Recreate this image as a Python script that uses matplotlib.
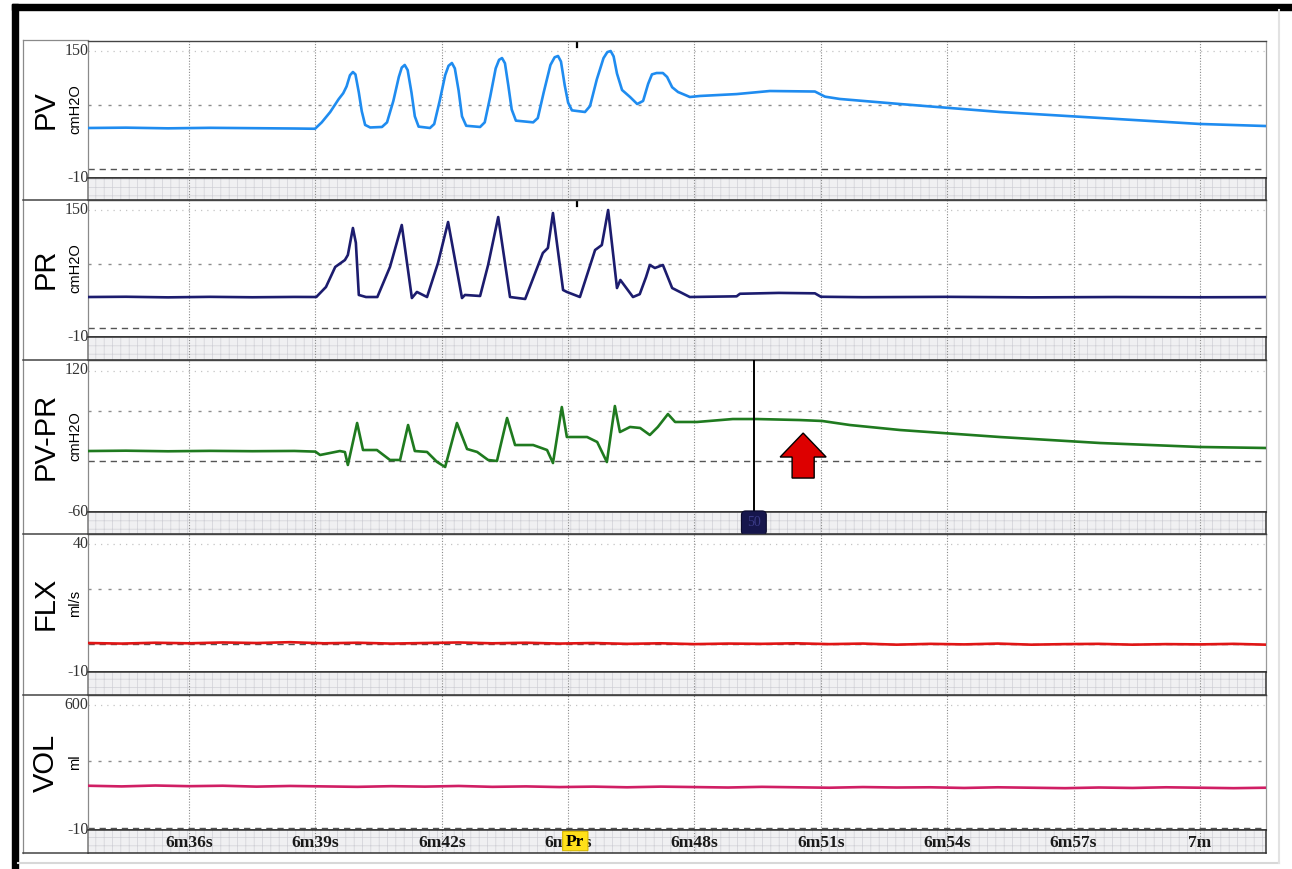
import matplotlib
matplotlib.use('Agg')
import matplotlib.pyplot as plt
import matplotlib.transforms as mtransforms
from matplotlib.patches import Rectangle, Polygon, FancyBboxPatch
from matplotlib.lines import Line2D

# ---------------- data ----------------
tick_seconds = [396, 399, 402, 405, 408, 411, 414, 417, 420]
tick_labels = ['6m36s', '6m39s', '6m42s', '6m45s', '6m48s', '6m51s', '6m54s', '6m57s', '7m']
time_range = (393.60, 421.57)
event_time = 405.17
event_label = 'Pr'
cursor_time = 409.41
cursor_label = '50'
arrow_tip = (410.58, 33.5)

channel_names = ['PV', 'PR', 'PV-PR', 'FLX', 'VOL']
channel_units = ['cmH2O', 'cmH2O', 'cmH2O', 'ml/s', 'ml']
channel_min = [-10, -10, -60, -10, -10]
channel_max = [150, 150, 120, 40, 600]
channel_mid = [75, 75, 60, 20, 300]
channel_colors = ['#1f8cf0', '#1c1c6e', '#1f7a1f', '#e01515', '#d01e64']

pv_t = [393.60, 394.5, 395.5, 396.5, 397.5, 398.5, 398.99, 399.15, 399.35, 399.55,
        399.66, 399.74, 399.82, 399.89, 399.95, 400.03, 400.10, 400.18, 400.30, 400.58,
        400.70, 400.85, 400.98, 401.05, 401.12, 401.19, 401.28, 401.36, 401.45, 401.72,
        401.82, 401.95, 402.08, 402.16, 402.24, 402.31, 402.40, 402.48, 402.58, 402.91,
        403.02, 403.15, 403.28, 403.36, 403.43, 403.50, 403.58, 403.66, 403.76, 404.17,
        404.28, 404.42, 404.58, 404.68, 404.76, 404.83, 404.92, 405.00, 405.09, 405.40,
        405.52, 405.68, 405.84, 405.93, 406.01, 406.08, 406.16, 406.28, 406.47, 406.64,
        406.78, 406.90, 406.99, 407.10, 407.25, 407.35, 407.47, 407.61, 407.89, 408.13,
        409.0, 409.79, 410.86, 411.10, 411.45, 412.88, 415.25, 417.63, 420.00, 421.57]
pv_v = [48.4, 48.8, 48.0, 48.6, 48.2, 47.8, 47.5, 55.0, 67.0, 82.0,
        89.0, 97.0, 110.0, 113.8, 111.0, 90.0, 68.0, 52.0, 49.0, 49.6,
        55.0, 80.0, 108.0, 119.0, 122.0, 116.0, 90.0, 62.0, 50.0, 48.4,
        53.0, 80.0, 110.0, 121.0, 124.3, 118.0, 92.0, 62.0, 51.0, 49.6,
        55.0, 85.0, 118.0, 128.0, 130.1, 124.0, 98.0, 70.0, 57.0, 55.0,
        60.0, 90.0, 122.0, 131.0, 132.5, 126.0, 98.0, 78.0, 69.0, 67.1,
        74.0, 105.0, 130.0, 137.0, 138.3, 132.0, 112.0, 92.8, 84.6, 76.4,
        80.0, 100.0, 111.0, 112.6, 112.6, 108.0, 96.0, 90.4, 84.6, 85.8,
        88.0, 91.6, 91.0, 85.0, 82.3, 76.4, 67.1, 60.1, 53.1, 50.7]

pr_t = [393.60, 394.5, 395.5, 396.5, 397.5, 398.5, 399.02, 399.25, 399.47, 399.70,
        399.77, 399.89, 399.96, 400.03, 400.20, 400.47, 400.77, 401.05, 401.29, 401.41,
        401.65, 401.91, 402.15, 402.48, 402.55, 402.91, 403.10, 403.34, 403.62, 403.98,
        404.40, 404.52, 404.64, 404.88, 404.97, 405.28, 405.64, 405.80, 405.95, 406.16,
        406.24, 406.54, 406.70, 406.85, 406.94, 407.06, 407.25, 407.47, 407.89, 409.0,
        409.08, 410.0, 410.86, 411.00, 412.0, 414.0, 416.0, 418.0, 420.0, 421.57]
pr_v = [36.7, 37.0, 36.3, 36.9, 36.4, 36.8, 36.7, 48.4, 71.8, 79.9,
        85.8, 117.3, 100.0, 39.1, 36.7, 36.7, 71.8, 120.8, 35.5, 42.6,
        36.7, 76.4, 124.3, 35.5, 39.1, 37.9, 74.1, 130.1, 36.7, 34.4,
        88.1, 94.0, 134.8, 44.9, 42.6, 36.7, 91.6, 97.4, 138.3, 47.2,
        56.6, 36.7, 40.0, 60.0, 74.1, 70.6, 74.1, 47.2, 36.7, 37.5,
        40.5, 41.5, 41.0, 37.0, 36.5, 36.9, 36.3, 36.7, 36.4, 36.6]

pvpr_t = [393.60, 394.5, 395.5, 396.5, 397.5, 398.5, 399.0, 399.11, 399.35, 399.58,
          399.70, 399.77, 399.99, 400.13, 400.46, 400.77, 401.01, 401.20, 401.36, 401.65,
          401.89, 402.08, 402.36, 402.60, 402.84, 403.10, 403.31, 403.55, 403.74, 404.17,
          404.50, 404.64, 404.85, 404.97, 405.45, 405.69, 405.92, 406.11, 406.23, 406.47,
          406.71, 406.94, 407.13, 407.37, 407.54, 407.89, 408.06, 408.91, 409.48, 410.50,
          411.03, 411.69, 412.88, 415.25, 417.63, 420.00, 421.57]
pvpr_v = [12.2, 12.6, 11.9, 12.4, 12.0, 12.3, 11.5, 7.5, 9.9, 12.2,
          11.0, -4.3, 45.4, 13.4, 13.4, 1.6, 1.6, 43.0, 12.2, 11.1,
          -0.8, -6.7, 45.4, 14.6, 11.1, 1.6, 0.4, 51.3, 19.3, 19.3,
          13.4, -2.0, 64.3, 28.8, 28.8, 22.9, -0.8, 65.5, 34.7, 40.7,
          39.5, 31.2, 40.7, 56.0, 46.6, 46.6, 46.6, 50.1, 50.1, 48.9,
          47.8, 43.0, 37.1, 28.8, 21.7, 17.0, 15.8]

flx_t = [393.6, 394.4, 395.2, 396.0, 396.8, 397.6, 398.4, 399.2, 400.0, 400.8,
         401.6, 402.4, 403.2, 404.0, 404.8, 405.6, 406.4, 407.2, 408.0, 408.8,
         409.6, 410.4, 411.2, 412.0, 412.8, 413.6, 414.4, 415.2, 416.0, 416.8,
         417.6, 418.4, 419.2, 420.0, 420.8, 421.57]
flx_v = [0.5, 0.3, 0.6, 0.4, 0.7, 0.5, 0.8, 0.4, 0.6, 0.3,
         0.5, 0.7, 0.4, 0.6, 0.3, 0.5, 0.2, 0.4, 0.1, 0.3,
         0.2, 0.4, 0.1, 0.3, -0.1, 0.2, 0.0, 0.3, -0.1, 0.1,
         0.2, -0.1, 0.1, 0.0, 0.2, -0.1]

vol_t = flx_t
vol_v = [190, 187, 191, 188, 190, 186, 189, 187, 185, 188,
         186, 189, 185, 187, 184, 186, 183, 186, 184, 182,
         185, 183, 181, 184, 182, 183, 180, 183, 181, 179,
         182, 180, 183, 181, 179, 181]

traces = [(pv_t, pv_v), (pr_t, pr_v), (pvpr_t, pvpr_v), (flx_t, flx_v), (vol_t, vol_v)]

# ---------------- layout (pixels) ----------------
W, H = 1292, 869
X0, X1 = 88, 1266
panel_top = [41, 200, 360, 534, 695]
band_top = [178, 337, 512, 672, 830]
band_bot = [200, 360, 534, 695, 853]

fig = plt.figure(figsize=(W / 100, H / 100), dpi=100)
fig.patch.set_facecolor('white')
plt.rcParams['hatch.linewidth'] = 0.5


def rect(x0, y0, x1, y1):
    return [x0 / W, 1 - y1 / H, (x1 - x0) / W, (y1 - y0) / H]


# background / frame
bg = fig.add_axes([0, 0, 1, 1], zorder=-5)
bg.set_xlim(0, W)
bg.set_ylim(H, 0)
bg.axis('off')
bg.add_patch(Rectangle((12, 4), W - 12, 6, color='black'))
bg.add_patch(Rectangle((12, 4), 6, H - 4, color='black'))
bg.add_line(Line2D([18, 1279], [863, 863], color='#d8d8d8', lw=1.5))
bg.add_line(Line2D([1279, 1279], [10, 863], color='#e2e2e2', lw=1.5))
bg.add_line(Line2D([23, 23], [40, 853], color='#8a8a8a', lw=0.9))
bg.add_line(Line2D([23, X0], [40, 40], color='#8a8a8a', lw=0.9))
for yb in band_bot:
    bg.add_line(Line2D([23, X0], [yb, yb], color='#444444', lw=1.1))

serif = 'Liberation Serif'
sans = 'Liberation Sans'

data_axes = []
band_axes = []
for i in range(5):
    ax = fig.add_axes(rect(X0, panel_top[i], X1, band_top[i]))
    axb = fig.add_axes(rect(X0, band_top[i], X1, band_bot[i]), sharex=ax)
    data_axes.append(ax)
    band_axes.append(axb)

    ax.set_xlim(*time_range)
    ax.set_ylim(channel_min[i], channel_max[i])
    ax.set_xticks([])
    ax.set_yticks([])
    ax.spines['left'].set_color('#8a8a8a')
    ax.spines['left'].set_linewidth(0.9)
    ax.spines['right'].set_color('#9a9a9a')
    ax.spines['right'].set_linewidth(0.9)
    ax.spines['top'].set_color('#444444')
    ax.spines['top'].set_linewidth(1.0)
    ax.spines['bottom'].set_color('#333333')
    ax.spines['bottom'].set_linewidth(1.2)

    # horizontal reference lines
    rng = channel_max[i] - channel_min[i]
    ax.axhline(channel_max[i] - 0.075 * rng, color='#c4c4c4', lw=0.9, dashes=(1, 4))
    ax.axhline(channel_mid[i], color='#8c8c8c', lw=1.0, dashes=(2.2, 5))
    ax.axhline(0, color='#555555', lw=1.0, dashes=(4.5, 3.5))
    for t in tick_seconds:
        ax.axvline(t, color='#8a8a8a', lw=0.8, dashes=(1, 1.5))

    tt, vv = traces[i]
    ax.plot(tt, vv, color=channel_colors[i], lw=1.9, solid_joinstyle='round',
            solid_capstyle='round', zorder=5)

    # value labels
    ax.annotate(str(channel_max[i]), xy=(0, 1), xycoords='axes fraction',
                xytext=(0.5, -7.2), textcoords='offset points', ha='right', va='center',
                fontfamily=serif, fontsize=11.5, color='#333333')
    ax.annotate(str(channel_min[i]), xy=(0, 0), xycoords='axes fraction',
                xytext=(0.5, 0), textcoords='offset points', ha='right', va='center',
                fontfamily=serif, fontsize=11.5, color='#333333')

    # channel names
    yc = 1 - ((panel_top[i] + band_top[i]) / 2) / H
    fig.text(46 / W, yc, channel_names[i], rotation=90, ha='center', va='center',
             fontfamily=sans, fontsize=21, color='black')
    fig.text(75 / W, yc, channel_units[i], rotation=90, ha='center', va='center',
             fontfamily=sans, fontsize=10.5, color='black')

    # band
    axb.set_xlim(*time_range)
    axb.set_ylim(0, 1)
    axb.set_xticks([])
    axb.set_yticks([])
    axb.set_facecolor('#f0f0f2')
    axb.add_patch(Rectangle((0, 0), 1, 1, transform=axb.transAxes, facecolor='none',
                            edgecolor='#d0d0d6', hatch='++', lw=0))
    for s in axb.spines.values():
        s.set_color('#333333')
        s.set_linewidth(1.1)
    axb.spines['left'].set_color('#777777')
    for t in tick_seconds:
        axb.axvline(t, color='#8a8a8a', lw=0.8, dashes=(1, 1.5))

# event marks on top panels
for ax in data_axes[:2]:
    ax.axvline(event_time + 0.05, ymin=0.955, ymax=1.0, color='black', lw=1.6)

# time labels in bottom band
axb = band_axes[-1]
for t, lab in zip(tick_seconds, tick_labels):
    axb.text(t, 0.45, lab, ha='center', va='center', fontfamily=serif,
             fontweight='bold', fontsize=12.5, color='#1a1a1a', zorder=6)
mixed = mtransforms.blended_transform_factory(axb.transData, axb.transAxes)
box_w = 0.60
axb.add_patch(FancyBboxPatch((event_time - box_w / 2, 0.10), box_w, 0.84,
                             boxstyle='round,pad=0,rounding_size=0.08',
                             mutation_aspect=1.0 / 10,
                             transform=mixed, facecolor='#ffe01a', edgecolor='#d8b800',
                             lw=0.8, zorder=7))
axb.text(event_time, 0.48, event_label, ha='center', va='center', fontfamily=serif,
         fontweight='bold', fontsize=12.5, color='black', zorder=8)

# cursor in PV-PR panel
ax3 = data_axes[2]
axb3 = band_axes[2]
ax3.axvline(cursor_time, color='black', lw=1.4, zorder=6)
axb3.axvline(cursor_time, ymin=0.5, ymax=1.0, color='black', lw=1.4, zorder=6)
axb3.text(cursor_time, 0.5, cursor_label, ha='center', va='center', fontfamily=serif,
          fontsize=10, color='#3a3a86', zorder=8,
          bbox=dict(boxstyle='round,pad=0.4,rounding_size=0.3', fc='#16164c',
                    ec='#0a0a2c', lw=0.8))

# red arrow annotation (pointing up)
tx, ty = arrow_tip
hw, sw = 0.546, 0.262   # half widths of head / shaft (s)
hh, th = 28.4, 53.3     # head height, total height (units)
arrow_pts = [(tx, ty), (tx + hw, ty - hh), (tx + sw, ty - hh), (tx + sw, ty - th),
             (tx - sw, ty - th), (tx - sw, ty - hh), (tx - hw, ty - hh)]
ax3.add_patch(Polygon(arrow_pts, closed=True, facecolor='#dd0000', edgecolor='black',
                      lw=1.0, zorder=9))

fig.savefig('out.png', dpi=100, facecolor='white')
